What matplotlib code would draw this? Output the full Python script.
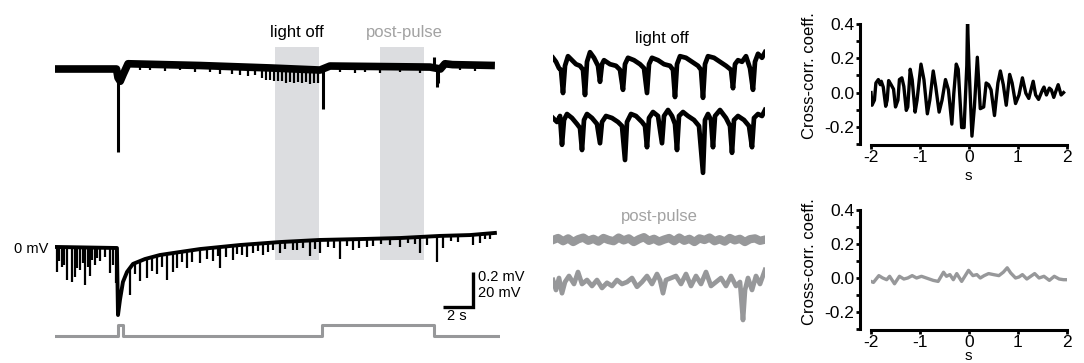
import numpy as np
import matplotlib
matplotlib.use("Agg")
import matplotlib.pyplot as plt

plt.rcParams["font.family"] = ["Liberation Sans", "DejaVu Sans"]
plt.rcParams["axes.unicode_minus"] = False

W, H = 1084, 363

# ---- left panel: long recording (time in s) ----
# slow component of the extracellular trace (s, mV)
TOP_T = [0, 4.1, 4.2, 4.35, 4.55, 4.87, 9.67, 14.33, 17.67, 18.33, 25.0, 25.7, 26.0,
         26.5, 29.33]
TOP_MV = [0, 0, -0.05, -0.07, -0.03, 0.03, 0.02, 0.006, -0.006, 0.017, 0.011, 0.0, 0.03,
          0.025, 0.02]
# large deflections (s, tip in mV)
TOP_SPIKE_T = [4.2, 17.87, 25.25, 25.45, 25.55]
TOP_SPIKE_MV = [-0.474, -0.229, 0.07, -0.1, -0.08]
# small downward events (s, depth in mV)
TOP_EVENT_T = [5.67, 6.33, 7.33, 8.33, 9.33, 10.33, 11.0, 11.8, 12.33, 12.87, 13.33, 13.8,
               14.07, 14.33, 14.6, 14.87, 15.13, 15.4, 15.67, 15.93, 16.2, 16.47, 16.73,
               17.0, 17.27, 17.53, 19.0, 20.0, 20.67, 21.67, 23.0, 24.33, 27.0, 28.0]
TOP_EVENT_DEPTH = [0.034, 0.03, 0.034, 0.03, 0.04, 0.034, 0.046, 0.04, 0.046, 0.05, 0.046,
                   0.057, 0.069, 0.069, 0.074, 0.074, 0.069, 0.08, 0.074, 0.08, 0.074, 0.08,
                   0.069, 0.08, 0.074, 0.074, 0.034, 0.04, 0.03, 0.034, 0.03, 0.034, 0.03,
                   0.034]

# intracellular membrane potential (s, mV)
BOT_T = [0, 4.13, 4.2, 4.33, 4.53, 4.8, 5.2, 6.0, 7.0, 8.33, 9.67, 12.33, 15.0, 17.67,
         20.33, 23.0, 25.67, 27.67, 29.33]
BOT_MV = [0.6, 0, -38.3, -29.7, -19.4, -13.7, -9.1, -6.3, -4.0, -2.3, -0.6, 1.7, 3.4, 4.6,
          5.1, 5.7, 6.9, 7.4, 8.6]
BOT_EVENT_T = [0.13, 0.3, 0.47, 0.63, 0.8, 1.13, 1.33, 1.5, 1.67, 1.87, 2.0, 2.2, 2.33, 2.47,
               2.67, 2.83, 3.0, 3.33, 3.67, 3.87, 4.07, 5.0, 5.33, 5.67, 6.13, 6.47, 6.8,
               7.13, 7.47, 7.87, 8.13, 8.47, 8.8, 9.13, 9.67, 10.13, 10.53, 10.87, 11.0,
               11.4, 11.87, 12.13, 12.47, 12.8, 13.2, 13.53, 13.87, 14.2, 14.53, 15.0,
               15.33, 15.87, 16.13, 16.53, 17.0, 17.33, 17.67, 18.2, 18.6, 19.0, 19.47,
               19.87, 20.27, 20.8, 21.2, 21.73, 22.33, 23.0, 23.53, 24.0, 24.33, 24.8,
               25.47, 25.87, 26.4, 26.87, 27.87, 28.33, 28.67, 29.0]
BOT_EVENT_DEPTH = [14.3, 8, 11.4, 10, 18.9, 20, 17.1, 12, 13.1, 9, 21.7, 11, 16, 7, 9.7, 6,
                   7.4, 5, 14.3, 9.7, 20, 15.4, 6, 11.4, 11.4, 8, 10.3, 7, 14.9, 10.9, 9, 6,
                   9.7, 7, 8, 6, 7.4, 5, 12, 6, 8, 5, 6, 7.4, 5, 4, 6.9, 5, 4, 6.3, 4, 5.1,
                   5, 4, 8.6, 5, 7.4, 4, 5, 10.9, 4, 6.3, 5, 4.6, 4, 3, 4, 5.1, 3, 4, 9.1, 5,
                   14.9, 6.9, 3, 4, 5.7, 5.1, 3, 3]

# light stimulus (s, on/off)
STIM_T = [0, 4.2, 4.53, 17.8, 25.3, 29.67]
STIM_LEVEL = [0, 1, 0, 1, 0, 0]

LIGHT_OFF_WIN = (14.7, 17.6)
POST_PULSE_WIN = (21.7, 24.6)

# ---- middle panel: expanded windows (ms, uV) ----
OFF_A = [(0, 18), (42, 8), (84, -8), (112, -12), (140, -70), (168, -2), (210, 22),
         (266, 12), (322, 2), (378, -2), (420, -12), (448, -75), (476, 8), (518, 32),
         (574, 18), (630, -2), (658, -42), (686, 2), (714, 12), (798, 2), (882, -2),
         (938, -12), (980, -62), (1008, 2), (1050, 18), (1134, 12), (1218, 2), (1274, -8),
         (1316, -70), (1344, 2), (1386, 18), (1470, 12), (1554, 2), (1638, -2), (1680, -12),
         (1708, -80), (1736, 2), (1778, 22), (1862, 18), (1946, 8), (2030, -2), (2072, -12),
         (2100, -82), (2128, 2), (2170, 22), (2254, 18), (2338, 8), (2422, -2), (2492, -12),
         (2520, -58), (2548, 2), (2590, 12), (2646, 8), (2702, 22), (2758, -8), (2800, -62),
         (2828, 8), (2870, 28), (2926, 18), (2968, 32)]
OFF_B = [(0, 5), (56, -5), (98, 10), (126, -62), (154, 0), (196, 15), (266, 5), (336, -10),
         (378, -20), (406, -75), (434, 0), (476, 15), (546, 5), (616, -10), (658, -58),
         (686, -5), (742, 10), (826, 5), (910, -5), (966, -15), (1008, -100), (1036, -5),
         (1092, 15), (1162, 10), (1246, -5), (1288, -15), (1316, -68), (1344, 5), (1400, 20),
         (1470, 10), (1526, -58), (1554, 10), (1610, 25), (1666, 10), (1708, -10),
         (1736, -75), (1764, 10), (1820, 20), (1890, 10), (1974, 0), (2044, -15),
         (2100, -132), (2128, 0), (2170, 15), (2212, 0), (2240, -68), (2268, 10), (2338, 25),
         (2422, 5), (2478, -15), (2506, -82), (2534, 0), (2590, 10), (2674, 0), (2744, -15),
         (2786, -68), (2814, 5), (2870, 15), (2926, 10), (2968, 25)]
POST_A = [0, 5, -3, 4, -5, 2, 6, -2, 3, -4, 5, 0, -3, 6, -1, 4, -5, 2, 7, -2, 3, -4, 1, 5,
          -3, 6, -2, 3, -5, 4, 0, 6, -3, 2, -4, 5, -1, 3, -5, 2, 4, -2, 1]
POST_A_DT = 70.7
POST_B = [(0, 5), (42, -20), (84, 10), (126, -28), (168, 0), (224, 15), (294, -5), (350, 25),
          (406, -5), (476, 5), (546, -10), (616, 5), (686, -15), (756, -2), (826, -10),
          (896, 5), (966, -5), (1036, 0), (1106, 10), (1176, -12), (1246, 0), (1316, 15),
          (1386, -5), (1456, 20), (1498, 5), (1540, -28), (1582, 5), (1652, 10), (1722, 15),
          (1792, -5), (1862, 20), (1932, -10), (2002, 15), (2072, -5), (2142, 25),
          (2212, -10), (2282, 0), (2352, 10), (2422, -10), (2492, 15), (2562, -10),
          (2618, 0), (2660, -95), (2688, -20), (2730, 10), (2786, -20), (2842, 15),
          (2898, -5), (2968, 30)]

# ---- right panel: cross-correlograms (lag s, coeff) ----
XC_OFF = [(-2.0, 0.0), (-1.98, -0.074), (-1.93, -0.044), (-1.9, 0.056), (-1.85, 0.076),
          (-1.81, 0.046), (-1.79, 0.066), (-1.75, 0.032), (-1.7, -0.08), (-1.67, -0.044),
          (-1.64, 0.07), (-1.59, 0.046), (-1.54, 0.02), (-1.5, -0.084), (-1.45, -0.044),
          (-1.42, 0.076), (-1.37, 0.086), (-1.33, 0.036), (-1.28, -0.104), (-1.25, -0.084),
          (-1.2, 0.136), (-1.16, 0.076), (-1.1, -0.114), (-1.06, -0.044), (-0.98, 0.166),
          (-0.92, 0.076), (-0.85, -0.124), (-0.8, -0.044), (-0.73, 0.126), (-0.68, 0.036),
          (-0.61, -0.114), (-0.55, -0.044), (-0.48, 0.076), (-0.42, 0.016), (-0.35, -0.184),
          (-0.31, -0.004), (-0.26, 0.166), (-0.22, 0.136), (-0.15, -0.204), (-0.1, -0.204),
          (-0.045, 0.156), (-0.03, 0.416), (0.0, 0.156), (0.06, -0.254), (0.11, -0.084),
          (0.17, 0.206), (0.23, -0.094), (0.3, -0.084), (0.35, 0.056), (0.4, 0.046),
          (0.45, 0.016), (0.52, -0.134), (0.59, 0.056), (0.64, 0.126), (0.7, 0.046),
          (0.76, -0.074), (0.83, 0.106), (0.88, 0.056), (0.95, -0.064), (1.02, -0.014),
          (1.09, 0.086), (1.16, -0.004), (1.22, -0.034), (1.31, 0.066), (1.36, -0.014),
          (1.42, -0.04), (1.5, 0.016), (1.53, 0.032), (1.58, -0.014), (1.64, 0.026),
          (1.68, 0.016), (1.73, -0.028), (1.77, 0.006), (1.82, 0.046), (1.88, -0.014),
          (1.93, 0.0)]
XC_POST = [(-2.0, -0.02), (-1.95, -0.026), (-1.84, 0.014), (-1.76, 0.0), (-1.68, -0.01),
           (-1.62, 0.01), (-1.52, -0.034), (-1.42, 0.01), (-1.33, -0.006), (-1.25, 0.0),
           (-1.16, 0.014), (-1.07, 0.0), (-0.97, 0.01), (-0.87, 0.0), (-0.73, -0.014),
           (-0.63, -0.02), (-0.52, 0.034), (-0.46, 0.01), (-0.39, 0.02), (-0.32, -0.01),
           (-0.25, 0.026), (-0.15, -0.02), (-0.01, 0.045), (0.08, 0.014), (0.16, 0.02),
           (0.23, 0.0), (0.31, 0.014), (0.4, 0.026), (0.5, 0.02), (0.61, 0.014), (0.7, 0.034),
           (0.78, 0.06), (0.85, 0.03), (0.95, 0.0), (1.02, 0.006), (1.09, 0.02),
           (1.18, -0.006), (1.26, 0.01), (1.34, 0.026), (1.43, 0.0), (1.53, 0.01),
           (1.64, -0.014), (1.74, 0.01), (1.84, -0.006), (1.93, -0.01), (2.0, -0.01)]

BLACK = "black"
GREY = "#97989a"
SHADE = "#dcdde0"
LABEL_GREY = "#a2a2a2"


def px_axes(fig, x0, y0, x1, y1):
    ax = fig.add_axes([x0 / W, 1 - y1 / H, (x1 - x0) / W, (y1 - y0) / H])
    return ax


def trace_axes(fig, x0, x1, y0, y1, y_zero, px_per_unit):
    ax = px_axes(fig, x0, y0, x1, y1)
    ax.set_ylim((y_zero - y1) / px_per_unit, (y_zero - y0) / px_per_unit)
    ax.axis("off")
    return ax


def fig_text(fig, x, y, s, **kw):
    fig.text(x / W, 1 - y / H, s, **kw)


fig = plt.figure(figsize=(W / 100, H / 100), dpi=100)

# left panel
t_lim = (0, 29.67)
ax_bg = px_axes(fig, 55, 47, 500, 260)
ax_bg.set_xlim(*t_lim)
ax_bg.set_ylim(0, 1)
ax_bg.axvspan(*LIGHT_OFF_WIN, color=SHADE, lw=0)
ax_bg.axvspan(*POST_PULSE_WIN, color=SHADE, lw=0)
ax_bg.axis("off")

ax_top = trace_axes(fig, 55, 500, 40, 160, 69, 175)
ax_top.set_xlim(*t_lim)
ax_top.plot(TOP_T, TOP_MV, color=BLACK, lw=5.5, solid_joinstyle="round",
            solid_capstyle="butt")
base = np.interp(TOP_EVENT_T, TOP_T, TOP_MV)
ax_top.vlines(TOP_EVENT_T, base, base - np.array(TOP_EVENT_DEPTH), color=BLACK, lw=1.6)
base = np.interp(TOP_SPIKE_T, TOP_T, TOP_MV)
ax_top.vlines(TOP_SPIKE_T, base, TOP_SPIKE_MV, color=BLACK, lw=2.2)

ax_bot = trace_axes(fig, 55, 500, 200, 330, 248, 1.75)
ax_bot.set_xlim(*t_lim)
ax_bot.plot(BOT_T, BOT_MV, color=BLACK, lw=2.8, solid_joinstyle="round")
base = np.interp(BOT_EVENT_T, BOT_T, BOT_MV)
ax_bot.vlines(BOT_EVENT_T, base, base - np.array(BOT_EVENT_DEPTH), color=BLACK, lw=1.6)
# scale bar: 2 s, 20 mV
ax_bot.plot([25.9, 27.9, 27.9], [-33.5, -33.5, -13.5], color=BLACK, lw=2.4,
            solid_joinstyle="miter", solid_capstyle="butt")

ax_stim = trace_axes(fig, 55, 500, 315, 345, 336, 11)
ax_stim.set_xlim(*t_lim)
ax_stim.plot(STIM_T, STIM_LEVEL, drawstyle="steps-post", color=GREY, lw=2.2)

fig_text(fig, 297, 32, "light off", ha="center", va="center", fontsize=12)
fig_text(fig, 404, 32, "post-pulse", ha="center", va="center", fontsize=12,
         color=LABEL_GREY)
fig_text(fig, 48, 249, "0 mV", ha="right", va="center", fontsize=10.5)
fig_text(fig, 478, 277, "0.2 mV", ha="left", va="center", fontsize=10.5)
fig_text(fig, 478, 293, "20 mV", ha="left", va="center", fontsize=10.5)
fig_text(fig, 457, 316, "2 s", ha="center", va="center", fontsize=10.5)

# middle panel
m_lim = (0, 2968)
for data, y0, y1, yz, color in [(OFF_A, 40, 105, 65, BLACK), (OFF_B, 100, 180, 120, BLACK),
                                (POST_B, 260, 330, 282, GREY)]:
    ax = trace_axes(fig, 553, 765, y0, y1, yz, 0.4)
    ax.set_xlim(*m_lim)
    t, v = zip(*data)
    ax.plot(t, v, color=color, lw=3.4, solid_joinstyle="round")

ax = trace_axes(fig, 553, 765, 225, 255, 240, 0.4)
ax.set_xlim(*m_lim)
ax.plot(np.arange(len(POST_A)) * POST_A_DT, POST_A, color=GREY, lw=6)

fig_text(fig, 662, 39, "light off", ha="center", va="center", fontsize=12)
fig_text(fig, 659, 216, "post-pulse", ha="center", va="center", fontsize=12,
         color=LABEL_GREY)

# right panel
for data, y0, y1, color, lab_y, s_y in [(XC_OFF, 24, 144, BLACK, 76, 176),
                                        (XC_POST, 210, 329, GREY, 262, 356)]:
    ax = px_axes(fig, 871, y0, 1067, y1)
    lag, cc = zip(*data)
    ax.plot(lag, cc, color=color, lw=2.4)
    ax.set_xlim(-2, 2)
    ax.set_ylim(-0.3, 0.4)
    for side in ["top", "right"]:
        ax.spines[side].set_visible(False)
    for side in ["left", "bottom"]:
        ax.spines[side].set_linewidth(2.2)
    ax.spines["left"].set_position(("outward", 8))
    ax.spines["bottom"].set_position(("outward", 1))
    ax.spines["left"].set_bounds(-0.3, 0.4)
    ax.spines["bottom"].set_bounds(-2, 2)
    ax.set_yticks(np.round(np.arange(-0.3, 0.41, 0.1), 1))
    ax.set_yticklabels(["", "-0.2", "", "0.0", "", "0.2", "", "0.4"])
    ax.set_xticks([-2, -1, 0, 1, 2])
    ax.set_xticklabels(["-2", "-1", "0", "1", "2"])
    ax.tick_params(direction="out", length=3, width=2, labelsize=12.5, pad=1)
    ax.tick_params(axis="x", pad=0)
    ax.patch.set_visible(False)
    fig_text(fig, 810, lab_y, "Cross-corr. coeff.", rotation=90, ha="center",
             va="center", fontsize=12)
    fig_text(fig, 968, s_y, "s", ha="center", va="center", fontsize=11)

fig.savefig("out.png", dpi=100)
